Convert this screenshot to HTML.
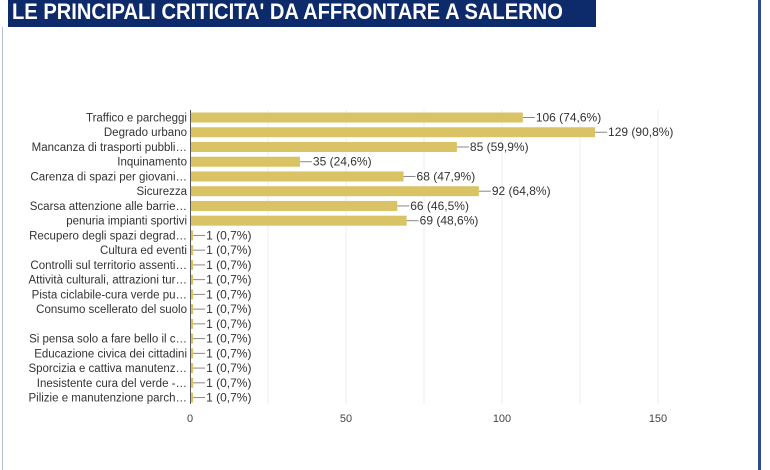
<!DOCTYPE html>
<html><head><meta charset="utf-8"><style>
body{margin:0;width:770px;height:470px;background:#fff;overflow:hidden;position:relative;font-family:"Liberation Sans",sans-serif}
.title{position:absolute;left:8px;top:0;width:588px;height:27px;background:#0d2a6b;color:#fff;font-size:22px;font-weight:bold;line-height:23px;padding-left:4px;box-sizing:border-box;white-space:nowrap;overflow:hidden}
.lb{position:absolute;left:2px;top:27px;width:1px;height:443px;background:#b5bfd8}
.rb{position:absolute;left:758px;top:0;width:3px;height:470px;background:#2c4a8c}
</style></head><body>
<div class="title"><span style="display:inline-block;transform:scaleX(0.915);transform-origin:left">LE PRINCIPALI CRITICITA' DA AFFRONTARE A SALERNO</span></div>
<div class="lb"></div><div class="rb"></div>
<svg width="770" height="470" style="position:absolute;left:0;top:0" font-family="Liberation Sans, sans-serif">
<g stroke="#ececec" stroke-width="1">
<line x1="268" y1="110" x2="268" y2="404"/><line x1="346" y1="110" x2="346" y2="404"/><line x1="424" y1="110" x2="424" y2="404"/><line x1="502" y1="110" x2="502" y2="404"/><line x1="580" y1="110" x2="580" y2="404"/><line x1="658" y1="110" x2="658" y2="404"/>
</g>
<g id="rows" font-size="11.5" fill="#333"></g>
<line x1="190.5" y1="110" x2="190.5" y2="404" stroke="#555" stroke-width="1"/>
<g font-size="11" fill="#444" text-anchor="middle">
<text x="190" y="422">0</text><text x="346" y="422">50</text><text x="502" y="422">100</text><text x="658" y="422">150</text>
</g>
</svg>
<script>
var d=[["Traffico e parcheggi",106,"74,6"],["Degrado urbano",129,"90,8"],["Mancanza di trasporti pubbli…",85,"59,9"],["Inquinamento",35,"24,6"],["Carenza di spazi per giovani…",68,"47,9"],["Sicurezza",92,"64,8"],["Scarsa attenzione alle barrie…",66,"46,5"],["penuria impianti sportivi",69,"48,6"],["Recupero degli spazi degrad…",1,"0,7"],["Cultura ed eventi",1,"0,7"],["Controlli sul territorio assenti…",1,"0,7"],["Attività culturali, attrazioni tur…",1,"0,7"],["Pista ciclabile-cura verde pu…",1,"0,7"],["Consumo scellerato del suolo",1,"0,7"],["",1,"0,7"],["Si pensa solo a fare bello il c…",1,"0,7"],["Educazione civica dei cittadini",1,"0,7"],["Sporcizia e cattiva manutenz…",1,"0,7"],["Inesistente cura del verde -…",1,"0,7"],["Pilizie e manutenzione parch…",1,"0,7"]];
var g=document.getElementById('rows'),s='';
d.forEach(function(r,i){var y=117.5+i*14.74,w=r[1]*3.14,x=190+w;
s+='<text x="187" y="'+(y+4)+'" text-anchor="end">'+r[0]+'</text>';
s+='<rect x="190" y="'+(y-5)+'" width="'+w+'" height="10" fill="#d9c365"/>';
s+='<line x1="'+x+'" y1="'+y+'" x2="'+(x+12)+'" y2="'+y+'" stroke="#888"/>';
s+='<text x="'+(x+13)+'" y="'+(y+4)+'" font-size="12" fill="#333">'+r[1]+' ('+r[2]+'%)</text>';});
g.innerHTML=s;
</script>
</body></html>
